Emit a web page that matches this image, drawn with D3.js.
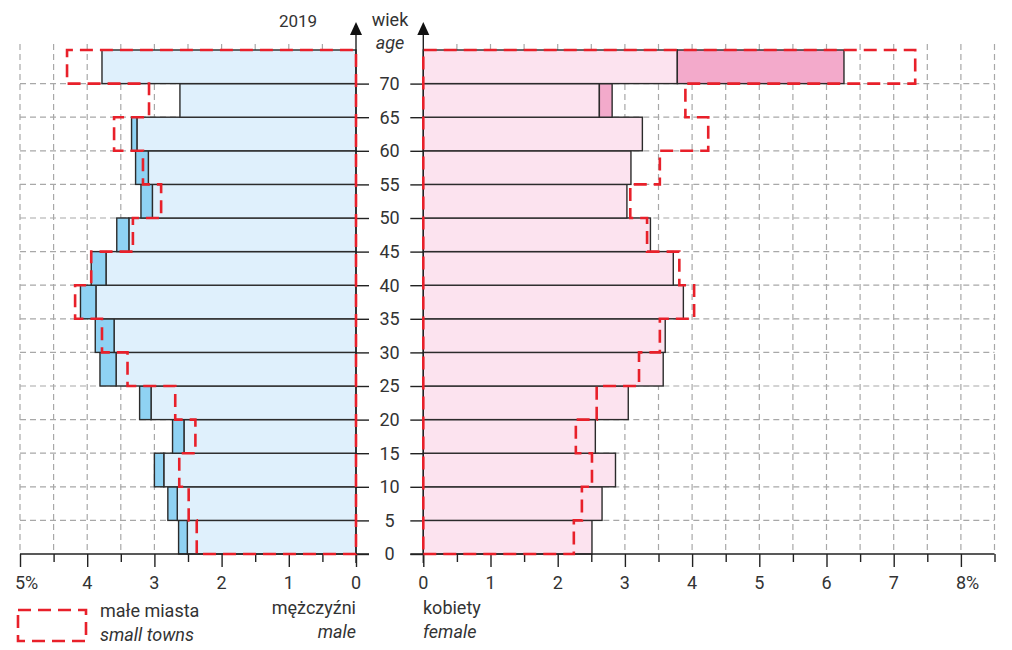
<!DOCTYPE html>
<html><head><meta charset="utf-8">
<script src="https://cdn.jsdelivr.net/npm/d3@7/dist/d3.min.js"></script>
<style>
html,body{margin:0;padding:0;background:#fff;}
svg{display:block;font-family:Roboto,"Noto Sans",sans-serif;}
</style></head>
<body>
<svg id="chart" width="1012" height="650"></svg>
<script>
// ---- data ----
const ageStarts = [0,5,10,15,20,25,30,35,40,45,50,55,60,65,70];
const ageTicks = [0,5,10,15,20,25,30,35,40,45,50,55,60,65,70];
const maleValues   = [2.64,2.80,3.00,2.73,3.22,3.81,3.88,4.10,3.94,3.56,3.20,3.28,3.34,2.62,3.78];
const femaleValues = [2.51,2.66,2.86,2.56,3.05,3.57,3.60,3.87,3.72,3.38,3.03,3.09,3.26,2.81,6.26];
const maleSmallTowns   = [2.37,2.49,2.63,2.39,2.69,3.40,3.78,4.18,3.94,3.32,2.90,3.17,3.60,3.08,4.30];
const femaleSmallTowns = [2.24,2.36,2.51,2.27,2.58,3.21,3.52,4.03,3.81,3.33,3.08,3.52,4.24,3.90,7.32];
const maleTicks = [0,1,2,3,4,5];
const femaleTicks = [0,1,2,3,4,5,6,7,8];
const yearLabel = "2019";

const svg = d3.select("#chart");
const txt = "#333";

const y = d3.scaleLinear().domain([0,75]).range([554,50]);
const xm = d3.scaleLinear().domain([0,5]).range([356,20]);
const xf = d3.scaleLinear().domain([0,8.5]).range([423.3,994.5]);

// ---- grid ----
const grid = svg.append("g").attr("stroke","#a8a8a8").attr("stroke-width",1.2).attr("stroke-dasharray","6,4").attr("fill","none");
d3.range(1,11).map(i=>i*0.5).forEach(v=>{
  grid.append("line").attr("x1",xm(v)).attr("x2",xm(v)).attr("y1",44).attr("y2",y(0));
});
d3.range(1,18).map(i=>i*0.5).forEach(v=>{
  grid.append("line").attr("x1",xf(v)).attr("x2",xf(v)).attr("y1",44).attr("y2",y(0));
});
ageTicks.filter(a=>a>0).forEach(a=>{
  grid.append("line").attr("x1",xm(5)).attr("x2",xm(0)).attr("y1",y(a)).attr("y2",y(a));
  grid.append("line").attr("x1",xf(0)).attr("x2",xf(8.5)).attr("y1",y(a)).attr("y2",y(a));
});

// ---- bars ----
const bars = svg.append("g").attr("stroke","#2b2b2b").attr("stroke-width",1.4);
ageStarts.forEach((a,i)=>{
  const m = maleValues[i], f = femaleValues[i];
  const lo = Math.min(m,f);
  const y0 = y(a+5), h = y(a)-y(a+5);
  // male
  bars.append("rect").attr("x",xm(lo)).attr("y",y0).attr("width",xm(0)-xm(lo)).attr("height",h).attr("fill","#dff0fc");
  if (m>f) bars.append("rect").attr("x",xm(m)).attr("y",y0).attr("width",xm(f)-xm(m)).attr("height",h).attr("fill","#8fd2f3");
  // female
  bars.append("rect").attr("x",xf(0)).attr("y",y0).attr("width",xf(lo)-xf(0)).attr("height",h).attr("fill","#fce3ef");
  if (f>m) bars.append("rect").attr("x",xf(m)).attr("y",y0).attr("width",xf(f)-xf(m)).attr("height",h).attr("fill","#f3aacb");
});

// ---- axes ----
const axG = svg.append("g");
function styleAxis(g){ g.select(".domain").remove(); g.selectAll("line").attr("stroke","#222").attr("stroke-width",1.4); }
// bottom male axis
const bm = axG.append("g").attr("transform",`translate(0,${y(0)})`)
  .call(d3.axisBottom(xm).tickValues(maleTicks).tickSize(13).tickFormat(""));
styleAxis(bm);
const bmMinor = axG.append("g").attr("transform",`translate(0,${y(0)})`)
  .call(d3.axisBottom(xm).tickValues(d3.range(0.5,5,1)).tickSize(8).tickFormat(""));
styleAxis(bmMinor);
const bf = axG.append("g").attr("transform",`translate(0,${y(0)})`)
  .call(d3.axisBottom(xf).tickValues(femaleTicks.concat([8.5])).tickSize(13).tickFormat(""));
styleAxis(bf);
bf.selectAll(".tick").filter(d=>d===8.5).select("line").attr("y2",8);
const bfMinor = axG.append("g").attr("transform",`translate(0,${y(0)})`)
  .call(d3.axisBottom(xf).tickValues(d3.range(0.5,8.5,1)).tickSize(8).tickFormat(""));
styleAxis(bfMinor);
// baseline lines
axG.append("line").attr("x1",xm(5)).attr("x2",xm(0)+13).attr("y1",y(0)).attr("y2",y(0)).attr("stroke","#222").attr("stroke-width",1.4);
axG.append("line").attr("x1",xf(0)-13).attr("x2",xf(8.5)).attr("y1",y(0)).attr("y2",y(0)).attr("stroke","#222").attr("stroke-width",1.4);

// vertical axes with age ticks
const vl = axG.append("g").attr("transform",`translate(${xm(0)},0)`)
  .call(d3.axisRight(y).tickValues(ageTicks).tickSize(13).tickFormat(""));
styleAxis(vl);
const vr = axG.append("g").attr("transform",`translate(${xf(0)},0)`)
  .call(d3.axisLeft(y).tickValues(ageTicks).tickSize(13).tickFormat(""));
styleAxis(vr);
[xm(0), xf(0)].forEach(x=>{
  axG.append("line").attr("x1",x).attr("x2",x).attr("y1",y(0)+9).attr("y2",34).attr("stroke","#222").attr("stroke-width",1.4);
  axG.append("path").attr("d",`M${x-6},35 L${x+6},35 L${x},22 Z`).attr("fill","#111");
});

// ---- small towns outline ----
function stepPath(vals, xs){
  let p = `M${xs(0)},${y(0)}`;
  ageStarts.forEach((a,i)=>{ p += ` L${xs(vals[i])},${y(a)} L${xs(vals[i])},${y(a+5)}`; });
  p += ` L${xs(0)},${y(75)} Z`;
  return p;
}
const red = "#e8202a";
svg.append("path").attr("d",stepPath(maleSmallTowns,xm)).attr("fill","none").attr("stroke",red).attr("stroke-width",2.6).attr("stroke-dasharray","13,7");
svg.append("path").attr("d",stepPath(femaleSmallTowns,xf)).attr("fill","none").attr("stroke",red).attr("stroke-width",2.6).attr("stroke-dasharray","13,7");

// ---- labels ----
const lab = svg.append("g").attr("fill",txt).attr("font-size",18);
ageTicks.forEach(a=>{
  lab.append("text").attr("x",389.5).attr("y",y(a)).attr("dy","0.36em").attr("text-anchor","middle").text(a);
});
maleTicks.forEach(v=>{
  const t = lab.append("text").attr("y",589);
  if (v===5) t.attr("x",xm(v)-5).attr("text-anchor","start").text(v+"%");
  else t.attr("x",xm(v)).attr("text-anchor","middle").text(v);
});
femaleTicks.forEach(v=>{
  const t = lab.append("text").attr("y",589);
  if (v===8) t.attr("x",xf(v)-5).attr("text-anchor","start").text(v+"%");
  else t.attr("x",xf(v)).attr("text-anchor","middle").text(v);
});
lab.append("text").attr("x",298).attr("y",27).attr("text-anchor","middle").attr("font-size",17).text(yearLabel);
lab.append("text").attr("x",390).attr("y",26).attr("text-anchor","middle").text("wiek");
lab.append("text").attr("x",390).attr("y",49).attr("text-anchor","middle").attr("font-style","italic").text("age");
lab.append("text").attr("x",356).attr("y",614).attr("text-anchor","end").text("mężczyźni");
lab.append("text").attr("x",356).attr("y",638).attr("text-anchor","end").attr("font-style","italic").text("male");
lab.append("text").attr("x",423).attr("y",614).attr("text-anchor","start").text("kobiety");
lab.append("text").attr("x",423).attr("y",638).attr("text-anchor","start").attr("font-style","italic").text("female");
// legend
svg.append("rect").attr("x",18).attr("y",610).attr("width",68).attr("height",31).attr("fill","none")
  .attr("stroke",red).attr("stroke-width",2.6).attr("stroke-dasharray","13,7");
lab.append("text").attr("x",100).attr("y",617).text("małe miasta");
lab.append("text").attr("x",100).attr("y",641).attr("font-style","italic").text("small towns");
</script>
</body></html>
